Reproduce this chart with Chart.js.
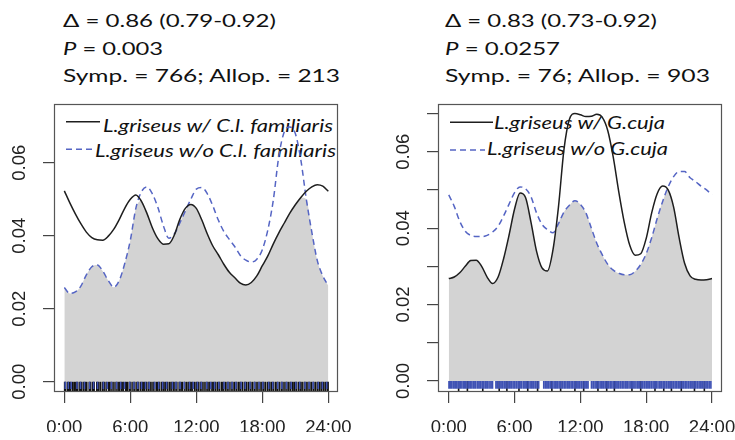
<!DOCTYPE html>
<html><head><meta charset="utf-8">
<script src="https://cdn.jsdelivr.net/npm/chart.js@4.4.1/dist/chart.umd.min.js"></script>
<style>
html,body{margin:0;padding:0;background:#fff;overflow:hidden;}
#wrap{position:relative;width:735px;height:440px;overflow:hidden;}
canvas{position:absolute;left:0;top:0;}
svg{position:absolute;left:0;top:0;}
.t{font-family:Lato,'Open Sans',sans-serif;font-size:18px;fill:#111;}
.i{font-style:italic;}
</style></head><body>
<div id="wrap">
<svg width="735" height="440">
  <text class="t" x="63" y="26.5" textLength="213" lengthAdjust="spacingAndGlyphs">Δ = 0.86 (0.79-0.92)</text>
  <text class="t" x="63" y="54.5" textLength="100" lengthAdjust="spacingAndGlyphs"><tspan class="i">P</tspan> = 0.003</text>
  <text class="t" x="63" y="81.5" textLength="277" lengthAdjust="spacingAndGlyphs">Symp. = 766; Allop. = 213</text>
  <text class="t" x="445" y="26.5" textLength="212" lengthAdjust="spacingAndGlyphs">Δ = 0.83 (0.73-0.92)</text>
  <text class="t" x="445" y="54.5" textLength="115" lengthAdjust="spacingAndGlyphs"><tspan class="i">P</tspan> = 0.0257</text>
  <text class="t" x="445" y="81.5" textLength="265" lengthAdjust="spacingAndGlyphs">Symp. = 76; Allop. = 903</text>

  <line x1="66" y1="121.7" x2="100" y2="121.7" stroke="#1e1e1e" stroke-width="1.5"/>
  <text class="t i" x="103" y="131.7" textLength="230" lengthAdjust="spacingAndGlyphs">L.griseus w/ C.l. familiaris</text>
  <line x1="66" y1="149.3" x2="92" y2="149.3" stroke="#5565c4" stroke-width="1.5" stroke-dasharray="6 4"/>
  <text class="t i" x="95" y="156.7" textLength="241" lengthAdjust="spacingAndGlyphs">L.griseus w/o C.l. familiaris</text>

  <line x1="450" y1="122.3" x2="493" y2="122.3" stroke="#1e1e1e" stroke-width="1.5"/>
  <text class="t i" x="494" y="129.3" textLength="171" lengthAdjust="spacingAndGlyphs">L.griseus w/ G.cuja</text>
  <line x1="450" y1="150" x2="485" y2="150" stroke="#5565c4" stroke-width="1.5" stroke-dasharray="6 4"/>
  <text class="t i" x="487" y="155" textLength="181" lengthAdjust="spacingAndGlyphs">L.griseus w/o G.cuja</text>
</svg>
<canvas id="c1" width="780" height="440" style="width:780px;height:440px"></canvas>
<canvas id="c2" width="780" height="440" style="width:780px;height:440px"></canvas>
</div>
<script>
// ---- data ----
const hours = [0,0.5,1,1.5,2,2.5,3,3.5,4,4.5,5,5.5,6,6.5,7,7.5,8,8.5,9,9.5,10,10.5,11,11.5,12,12.5,13,13.5,14,14.5,15,15.5,16,16.5,17,17.5,18,18.5,19,19.5,20,20.5,21,21.5,22,22.5,23,23.5,24];

const leftWith = [0.0523,0.0490,0.0460,0.0433,0.0410,0.0395,0.0389,0.0388,0.0399,0.0418,0.0445,0.0476,0.0500,0.0512,0.0495,0.0462,0.0422,0.0392,0.0377,0.0378,0.0402,0.0445,0.0475,0.0486,0.0475,0.0443,0.0405,0.0372,0.0348,0.0322,0.0300,0.0285,0.0270,0.0265,0.0272,0.0290,0.0318,0.0345,0.0378,0.0408,0.0435,0.0462,0.0485,0.0505,0.0522,0.0534,0.0540,0.0536,0.0522];
const leftWithout = [0.0258,0.0242,0.0246,0.0262,0.0293,0.0315,0.0320,0.0303,0.0277,0.0259,0.0278,0.0325,0.0388,0.0475,0.0520,0.0534,0.0515,0.0478,0.0428,0.0393,0.0405,0.0435,0.0468,0.0500,0.0528,0.0532,0.0515,0.0482,0.0443,0.0412,0.0390,0.0370,0.0346,0.0333,0.0328,0.0336,0.0362,0.0416,0.0498,0.0618,0.0685,0.0698,0.0680,0.0608,0.0500,0.0410,0.0332,0.0290,0.0263];

const rightWith = [0.0268,0.0272,0.0283,0.0300,0.0315,0.0316,0.0300,0.0272,0.0255,0.0272,0.0320,0.0382,0.0450,0.0492,0.0480,0.0415,0.0340,0.0296,0.0288,0.0343,0.0455,0.0605,0.0685,0.0700,0.0697,0.0692,0.0693,0.0698,0.0690,0.0655,0.0585,0.0495,0.0415,0.0355,0.0329,0.0333,0.0373,0.0440,0.0490,0.0510,0.0500,0.0455,0.0375,0.0308,0.0275,0.0266,0.0264,0.0265,0.0268];
const rightWithout = [0.0487,0.0457,0.0418,0.0392,0.0381,0.0378,0.0378,0.0381,0.0390,0.0405,0.0432,0.0463,0.0493,0.0508,0.0503,0.0482,0.0440,0.0410,0.0396,0.0388,0.0412,0.0442,0.0460,0.0472,0.0462,0.0440,0.0400,0.0360,0.0330,0.0305,0.0290,0.0282,0.0278,0.0278,0.0287,0.0305,0.0333,0.0375,0.0425,0.0470,0.0508,0.0535,0.0548,0.0548,0.0532,0.0522,0.0510,0.0500,0.0487];

const leftRugSymp = [0.03,0.12,0.31,0.44,0.58,0.77,0.93,1.08,1.22,1.41,1.55,1.73,1.9,2.04,2.26,2.38,2.57,2.71,2.95,3.1,3.27,3.46,3.62,3.8,4.02,4.15,4.33,4.51,4.7,4.88,5.03,5.21,5.36,5.58,5.72,5.9,6.05,6.24,6.41,6.6,6.74,6.93,7.11,7.26,7.45,7.63,7.8,7.97,8.14,8.35,8.49,8.66,8.85,9.02,9.18,9.37,9.55,9.71,9.9,10.06,10.23,10.44,10.6,10.75,10.96,11.13,11.3,11.47,11.62,11.84,12.01,12.18,12.36,12.52,12.7,12.88,13.05,13.21,13.42,13.57,13.75,13.93,14.1,14.29,14.44,14.63,14.8,14.97,15.16,15.33,15.5,15.68,15.86,16.02,16.2,16.39,16.55,16.73,16.91,17.08,17.26,17.43,17.6,17.79,17.96,18.13,18.3,18.49,18.66,18.83,19.0,19.19,19.35,19.53,19.72,19.88,20.06,20.24,20.41,20.58,20.77,20.93,21.1,21.29,21.46,21.62,21.81,21.98,22.15,22.33,22.5,22.68,22.85,23.03,23.2,23.37,23.55,23.72,23.9,23.98];
const leftRugAllo = [0.08,0.36,0.62,1.15,1.47,1.83,2.3,2.66,3.02,3.55,3.9,4.28,4.75,5.12,5.47,5.95,6.33,6.68,7.02,7.38,7.71,8.2,8.58,8.94,9.3,9.83,10.15,10.52,10.9,11.38,11.72,12.1,12.45,12.95,13.3,13.66,14.05,14.52,14.88,15.25,15.6,16.07,16.45,16.88,17.3,17.7,18.05,18.58,18.95,19.4,19.78,20.2,20.62,21.05,21.4,21.88,22.25,22.62,23.08,23.46,23.85];
const rightRugSymp = [0.9,1.7,3.1,4.6,5.3,6.4,7.2,8.1,9.4,10.2,11.5,12.3,13.6,14.4,15.1,16.7,17.5,18.8,19.6,20.3,21.2,22.4,23.3];
const rightRugAllo = [0.02,0.16,0.29,0.45,0.6,0.74,0.9,1.05,1.2,1.36,1.5,1.66,1.82,1.97,2.12,2.28,2.43,2.6,2.75,2.9,3.06,3.21,3.37,3.52,3.68,3.84,3.99,4.3,4.45,4.62,4.77,4.92,5.08,5.23,5.4,5.55,5.7,5.86,6.01,6.17,6.33,6.48,6.63,6.8,6.95,7.1,7.26,7.42,7.57,7.72,7.88,8.04,8.2,8.66,8.82,8.97,9.12,9.28,9.44,9.6,9.75,9.9,10.06,10.21,10.37,10.53,10.68,10.84,10.99,11.15,11.3,11.46,11.62,11.77,11.92,12.08,12.24,12.4,12.55,12.7,13.01,13.17,13.33,13.48,13.64,13.8,13.95,14.1,14.26,14.42,14.57,14.73,14.88,15.04,15.2,15.35,15.5,15.66,15.82,15.97,16.13,16.28,16.44,16.6,16.75,16.9,17.06,17.22,17.37,17.53,17.68,17.84,18.0,18.15,18.3,18.46,18.62,18.77,18.92,19.08,19.24,19.39,19.55,19.7,19.86,20.02,20.17,20.32,20.48,20.64,20.79,20.95,21.1,21.26,21.41,21.57,21.72,21.88,22.04,22.19,22.35,22.5,22.66,22.82,22.97,23.12,23.28,23.44,23.59,23.75,23.9];

const xTickValues = [0,6,12,18,24];
const xTickLabels = ['0:00','6:00','12:00','18:00','24:00'];
const yTicksLeft = [0,0.02,0.04,0.06];
const yTicksRight = [0,0.01,0.02,0.03,0.04,0.05,0.06,0.07];
const yLabeled = [0,0.02,0.04,0.06];

// ---- rendering ----
const BLACK = '#1e1e1e', BLUE = '#5565c4', RUGBLUE = '#3f52b4', GRAY = '#d3d3d3';
const TICKFONT = {family:"'Liberation Sans', Arial, sans-serif", size:18.5};

const boxRug = {
  id:'boxRug',
  afterDatasetsDraw(chart, args, o){
    const {ctx, chartArea:a, scales:{x, y}} = chart;
    ctx.save();
    const y0 = y.getPixelForValue(0);
    const yb = a.bottom - 1;
    ctx.lineWidth = 1.6;
    ctx.strokeStyle = '#111';
    ctx.beginPath();
    for (const t of o.symp){ const px = x.getPixelForValue(t); ctx.moveTo(px, y0); ctx.lineTo(px, yb); }
    ctx.stroke();
    ctx.strokeStyle = RUGBLUE;
    ctx.beginPath();
    const yBlue = y0 + (yb - y0) * 0.78;
    for (const t of o.allo){ const px = x.getPixelForValue(t); ctx.moveTo(px, y0); ctx.lineTo(px, yBlue); }
    ctx.stroke();
    ctx.strokeStyle = '#555';
    ctx.lineWidth = 1.2;
    ctx.strokeRect(a.left + 0.5, a.top + 0.5, a.width - 1, a.height - 1);
    ctx.restore();
  }
};

function makeChart(id, withArr, withoutArr, xr, yr, yTicks, pad, rugs){
  const pts = (arr) => hours.map((h, i) => ({x:h, y:arr[i]}));
  const overlap = hours.map((h, i) => ({x:h, y:Math.min(withArr[i], withoutArr[i])}));
  return new Chart(document.getElementById(id), {
    type:'line',
    data:{datasets:[
      {label:'overlap', data:overlap, fill:'origin', backgroundColor:GRAY, borderWidth:0, pointRadius:0, cubicInterpolationMode:'monotone', order:3},
      {label:'with', data:pts(withArr), fill:false, borderColor:BLACK, borderWidth:1.5, pointRadius:0, cubicInterpolationMode:'monotone', order:1},
      {label:'without', data:pts(withoutArr), fill:false, borderColor:BLUE, borderWidth:1.5, borderDash:[6,4], pointRadius:0, cubicInterpolationMode:'monotone', order:2}
    ]},
    options:{
      responsive:false, animation:false, devicePixelRatio:1,
      layout:{padding:pad},
      plugins:{legend:{display:false}, tooltip:{enabled:false}, boxRug:rugs},
      scales:{
        x:{type:'linear', min:xr[0], max:xr[1],
           afterBuildTicks:(s)=>{ s.ticks = xTickValues.map(v=>({value:v})); },
           afterFit:(s)=>{ s.height = 40; },
           grid:{display:true, drawOnChartArea:false, drawTicks:true, tickLength:11, color:'#444', lineWidth:1.2},
           border:{display:false},
           ticks:{autoSkip:false, maxRotation:0, minRotation:0, padding:14, color:'#222', font:TICKFONT,
                  callback:(v)=>{ const k = xTickValues.indexOf(v); return k >= 0 ? xTickLabels[k] : ''; }}},
        y:{type:'linear', min:yr[0], max:yr[1],
           afterBuildTicks:(s)=>{ s.ticks = yTicks.map(v=>({value:v})); },
           afterFit:(s)=>{ s.width = 54; },
           grid:{display:true, drawOnChartArea:false, drawTicks:true, tickLength:11, color:'#444', lineWidth:1.2},
           border:{display:false},
           ticks:{autoSkip:false, minRotation:90, maxRotation:90, crossAlign:'near', padding:23, labelOffset:-18, color:'#222', font:TICKFONT,
                  callback:(v)=> yLabeled.includes(v) ? v.toFixed(2) : ''}}
      }
    },
    plugins:[boxRug]
  });
}

makeChart('c1', leftWith, leftWithout, [-0.94, 24.88], [-0.0028, 0.0761], yTicksLeft,
  {left:0, top:104, right:442, bottom:8}, {symp:leftRugSymp, allo:leftRugAllo});
makeChart('c2', rightWith, rightWithout, [-0.98, 24.91], [-0.0029, 0.0725], yTicksRight,
  {left:384, top:104, right:58, bottom:8}, {symp:rightRugSymp, allo:rightRugAllo});
</script>
</body></html>
